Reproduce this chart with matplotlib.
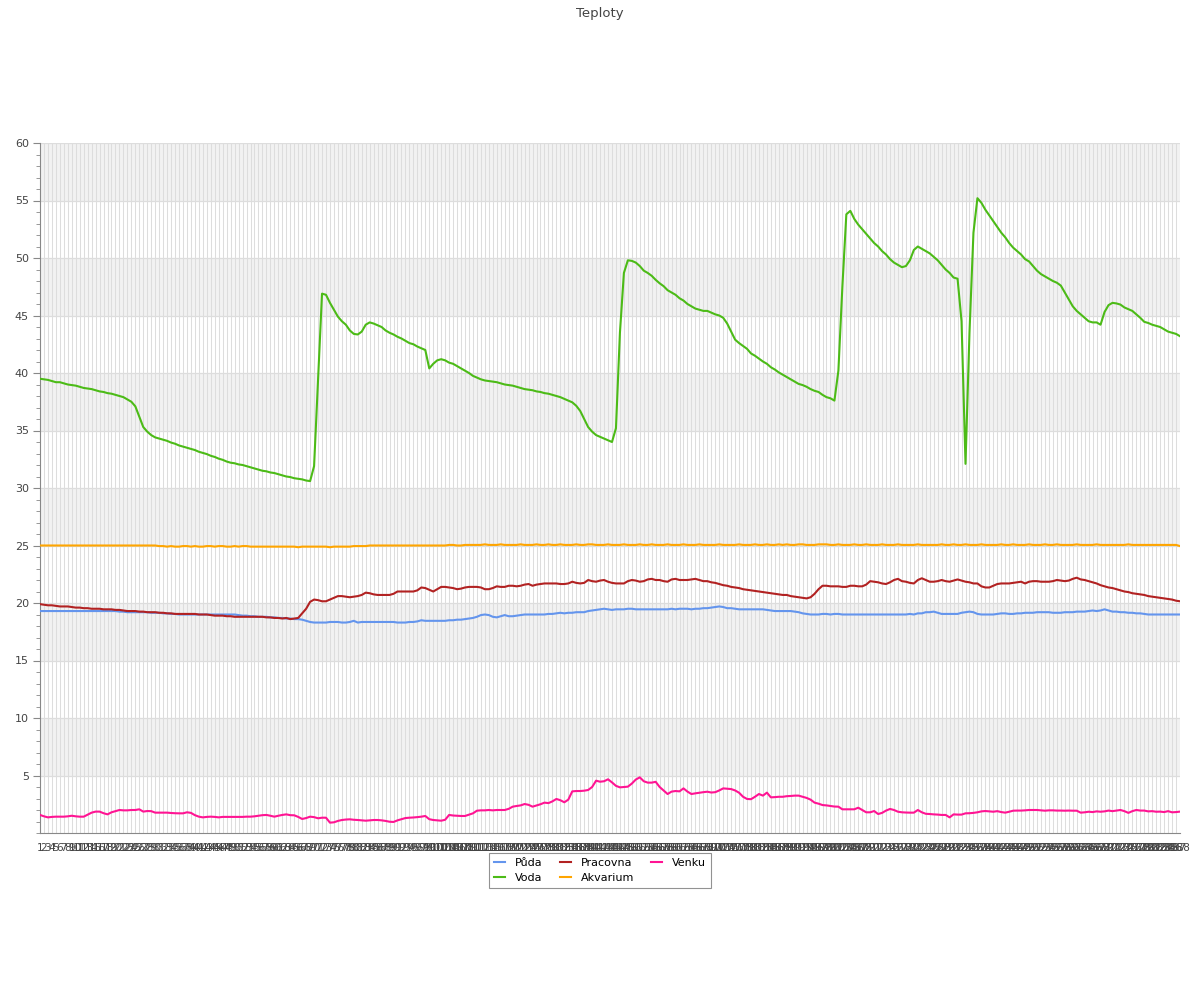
import matplotlib
matplotlib.use('Agg')
import matplotlib.pyplot as plt
from matplotlib.ticker import MultipleLocator

# 288 samples (5 min steps over one day)
labels = [str(i) for i in range(1, 289)]

puda = [19.3]*20 + [
    19.25, 19.25, 19.2, 19.2, 19.2, 19.2, 19.2, 19.2, 19.15, 19.15, 19.15, 19.1, 19.1,
    19.05, 19.05] + [19.0]*15 + [
    18.95, 18.9, 18.9, 18.85, 18.85, 18.8, 18.8, 18.8, 18.75, 18.75,
    18.7, 18.7, 18.65, 18.65, 18.6, 18.6, 18.55, 18.45, 18.35, 18.3,
    18.3, 18.3, 18.3, 18.35, 18.35, 18.35, 18.3, 18.3, 18.35, 18.45,
    18.3, 18.35, 18.35, 18.35, 18.35, 18.35, 18.35, 18.35, 18.35, 18.35,
    18.3, 18.3, 18.3, 18.35, 18.35, 18.4, 18.5, 18.45, 18.45, 18.45,
    18.45, 18.45, 18.45, 18.5, 18.5, 18.55, 18.55, 18.6, 18.65, 18.7,
    18.8, 18.95, 19.0, 18.95, 18.8, 18.75, 18.85, 18.95, 18.85, 18.85,
    18.9, 18.95, 19.0, 19.0, 19.0, 19.0, 19.0, 19.0, 19.05, 19.05,
    19.1, 19.15, 19.1, 19.15, 19.15, 19.2, 19.2, 19.2, 19.3, 19.35,
    19.4, 19.45, 19.5, 19.45, 19.4, 19.45, 19.45, 19.45, 19.5, 19.5,
    19.45, 19.45, 19.45, 19.45, 19.45, 19.45, 19.45, 19.45, 19.45, 19.5,
    19.45, 19.5, 19.5, 19.5, 19.45, 19.5, 19.5, 19.55, 19.55, 19.6,
    19.65, 19.7, 19.65, 19.55, 19.55, 19.5, 19.45, 19.45, 19.45, 19.45,
    19.45, 19.45, 19.45, 19.4, 19.35, 19.3, 19.3, 19.3, 19.3, 19.3,
    19.25, 19.2, 19.1, 19.05, 19.0, 19.0, 19.0, 19.05, 19.05, 19.0,
    19.05, 19.05, 19.0, 19.0, 19.0, 19.0, 19.0, 19.0, 19.0, 19.0,
    19.0, 19.0, 19.0, 19.0, 19.0, 19.0, 19.0, 19.0, 19.0, 19.05,
    19.0, 19.1, 19.1, 19.2, 19.2, 19.25, 19.15, 19.05, 19.05, 19.05,
    19.05, 19.05, 19.15, 19.2, 19.25, 19.2, 19.05, 19.0, 19.0, 19.0,
    19.0, 19.05, 19.1, 19.1, 19.05, 19.05, 19.1, 19.1, 19.15, 19.15,
    19.15, 19.2, 19.2, 19.2, 19.2, 19.15, 19.15, 19.15, 19.2, 19.2,
    19.2, 19.25, 19.25, 19.25, 19.3, 19.35, 19.3, 19.35, 19.45, 19.35,
    19.25, 19.25, 19.2, 19.2, 19.15, 19.15, 19.1, 19.1, 19.05, 19.0] + [19.0]*8

voda = [
    39.5, 39.45, 39.4, 39.3, 39.2, 39.2, 39.1, 39.0, 38.95, 38.9,
    38.8, 38.7, 38.65, 38.6, 38.5, 38.4, 38.35, 38.25, 38.2, 38.1,
    38.0, 37.9, 37.7, 37.5, 37.1, 36.2, 35.3, 34.9, 34.6, 34.4,
    34.3, 34.2, 34.1, 33.95, 33.85, 33.7, 33.6, 33.5, 33.4, 33.3,
    33.15, 33.05, 32.95, 32.8, 32.7, 32.55, 32.45, 32.3, 32.2, 32.15,
    32.05, 32.0, 31.9, 31.8, 31.7, 31.6, 31.5, 31.45, 31.35, 31.3,
    31.2, 31.1, 31.0, 30.95, 30.85, 30.8, 30.75, 30.65, 30.6, 31.9,
    39.3, 46.9, 46.8, 46.1, 45.5, 44.9, 44.5, 44.2, 43.7, 43.4,
    43.35, 43.6, 44.2, 44.4, 44.3, 44.15, 44.0, 43.7, 43.5, 43.35,
    43.15, 43.0, 42.8, 42.6, 42.5, 42.3, 42.15, 42.0, 40.4, 40.8,
    41.1, 41.2, 41.1, 40.9, 40.8, 40.6, 40.4, 40.2, 40.0, 39.75,
    39.6, 39.45, 39.35, 39.3, 39.25, 39.2, 39.1, 39.0, 38.95, 38.9,
    38.8, 38.7, 38.6, 38.55, 38.5, 38.4, 38.35, 38.25, 38.2, 38.1,
    38.0, 37.9, 37.75, 37.6, 37.45, 37.15, 36.7, 36.0, 35.3, 34.9,
    34.6, 34.45, 34.3, 34.15, 34.0, 35.2, 43.5, 48.7, 49.8, 49.75,
    49.6, 49.3, 48.9, 48.7, 48.45, 48.1, 47.8, 47.55, 47.2, 47.0,
    46.8, 46.5, 46.3, 46.0, 45.8, 45.6, 45.5, 45.4, 45.4, 45.25,
    45.1, 45.0, 44.8, 44.3, 43.6, 42.9, 42.6, 42.35, 42.1, 41.7,
    41.5, 41.25, 41.0, 40.8, 40.5, 40.3, 40.05, 39.85, 39.65, 39.45,
    39.25, 39.05, 38.95, 38.8, 38.6, 38.45, 38.35, 38.1, 37.9, 37.8,
    37.6, 40.2, 47.5, 53.8, 54.1, 53.4, 52.9, 52.5, 52.1, 51.7,
    51.3, 51.0, 50.6, 50.3, 49.9, 49.6, 49.4, 49.2, 49.3, 49.8,
    50.7, 51.0, 50.8, 50.6, 50.4, 50.1, 49.8, 49.4, 49.0, 48.7,
    48.3, 48.2, 44.5, 32.1, 43.5, 52.2, 55.2, 54.8, 54.2, 53.7,
    53.2, 52.7, 52.2, 51.8, 51.3, 50.9, 50.6, 50.3, 49.9, 49.7,
    49.3, 48.9, 48.6, 48.4, 48.2, 48.0, 47.85, 47.6, 47.0, 46.4,
    45.8, 45.4, 45.1, 44.8, 44.5, 44.4, 44.4, 44.2, 45.3, 45.9,
    46.1, 46.05, 45.95, 45.7, 45.55, 45.4, 45.1, 44.8, 44.45, 44.35,
    44.2, 44.1, 44.0, 43.8, 43.6, 43.5, 43.4, 43.2]

pracovna = [
    19.9, 19.85, 19.8, 19.8, 19.75, 19.7, 19.7, 19.7, 19.65, 19.6,
    19.6, 19.55, 19.55, 19.5, 19.5, 19.5, 19.45, 19.45, 19.45, 19.4,
    19.4, 19.35, 19.3, 19.3, 19.3, 19.25, 19.25, 19.2, 19.2, 19.2,
    19.15, 19.15, 19.1, 19.1, 19.05, 19.05, 19.05, 19.05, 19.05, 19.05,
    19.0, 19.0, 19.0, 18.95, 18.9, 18.9, 18.9, 18.85, 18.85, 18.8,
    18.8, 18.8, 18.8, 18.8, 18.8, 18.8, 18.8, 18.75, 18.75, 18.7,
    18.7, 18.65, 18.7, 18.6, 18.65, 18.7, 19.1, 19.5, 20.1, 20.3,
    20.25, 20.15, 20.15, 20.3, 20.45, 20.6, 20.6, 20.55, 20.5, 20.55,
    20.6, 20.7, 20.9, 20.85, 20.75, 20.7, 20.7, 20.7, 20.7, 20.8,
    21.0, 21.0, 21.0, 21.0, 21.0, 21.1, 21.35, 21.3, 21.15, 21.0,
    21.2, 21.4, 21.4, 21.35, 21.3, 21.2, 21.25, 21.35, 21.4, 21.4,
    21.4, 21.35, 21.2, 21.2, 21.3, 21.45, 21.4, 21.4, 21.5, 21.5,
    21.45, 21.5, 21.6, 21.65, 21.5, 21.6, 21.65, 21.7, 21.7, 21.7,
    21.7, 21.65, 21.65, 21.7, 21.85, 21.75, 21.7, 21.75, 22.0, 21.9,
    21.85, 21.95, 22.0, 21.85, 21.75, 21.7, 21.7, 21.7, 21.9, 22.0,
    21.95, 21.85, 21.9, 22.05, 22.1, 22.0, 22.0, 21.9, 21.85, 22.05,
    22.1, 22.0, 22.0, 22.0, 22.05, 22.1, 22.0, 21.9, 21.9, 21.8,
    21.75, 21.65, 21.55, 21.5, 21.4, 21.35, 21.3, 21.2, 21.15, 21.1,
    21.05, 21.0, 20.95, 20.9, 20.85, 20.8, 20.75, 20.7, 20.7, 20.6,
    20.55, 20.5, 20.45, 20.4, 20.5, 20.8, 21.2, 21.5, 21.5, 21.45,
    21.45, 21.45, 21.4, 21.4, 21.5, 21.5, 21.45, 21.45, 21.6, 21.9,
    21.85, 21.8, 21.7, 21.65, 21.8, 22.0, 22.1, 21.9, 21.85, 21.75,
    21.7, 22.0, 22.15, 22.0, 21.85, 21.85, 21.9, 22.0, 21.9, 21.85,
    21.95, 22.05, 21.95, 21.85, 21.8, 21.7, 21.7, 21.45, 21.35, 21.35,
    21.5, 21.65, 21.7, 21.7, 21.7, 21.75, 21.8, 21.85, 21.7, 21.85,
    21.9, 21.9, 21.85, 21.85, 21.85, 21.9, 22.0, 21.95, 21.9, 21.95,
    22.1, 22.2, 22.05, 22.0, 21.9, 21.8, 21.7, 21.55, 21.45, 21.35,
    21.3, 21.2, 21.1, 21.0, 20.95, 20.85, 20.8, 20.75, 20.7, 20.6,
    20.55, 20.5, 20.45, 20.4, 20.35, 20.3, 20.2, 20.15]

akvarium = [25.0]*30 + [
    24.95, 24.95, 24.9, 24.95, 24.9, 24.9, 24.95, 24.95, 24.9, 24.95,
    24.9, 24.9, 24.95, 24.95, 24.9, 24.95, 24.95, 24.9, 24.9, 24.95,
    24.9, 24.95, 24.95, 24.9, 24.9, 24.9, 24.9, 24.9, 24.9, 24.9,
    24.9, 24.9, 24.9, 24.9, 24.9, 24.85, 24.9, 24.9, 24.9, 24.9,
    24.9, 24.9, 24.9, 24.85, 24.9, 24.9, 24.9, 24.9, 24.9, 24.95,
    24.95, 24.95, 24.95, 25.0, 25.0, 25.0, 25.0, 25.0, 25.0, 25.0,
    25.0, 25.0, 25.0, 25.0, 25.0, 25.0, 25.0, 25.0, 25.0, 25.0,
    25.0, 25.0, 25.0, 25.05, 25.05, 25.0, 25.0, 25.05, 25.05, 25.05,
    25.05, 25.05, 25.1, 25.05, 25.05, 25.05, 25.1, 25.05, 25.05, 25.05,
    25.05, 25.1, 25.05, 25.05, 25.05, 25.1, 25.05, 25.05, 25.1, 25.05,
    25.05, 25.1, 25.05, 25.05, 25.05, 25.1, 25.05, 25.05, 25.1, 25.1,
    25.05, 25.05, 25.05, 25.1, 25.05, 25.05, 25.05, 25.1, 25.05, 25.05,
    25.05, 25.1, 25.05, 25.05, 25.1, 25.05, 25.05, 25.05, 25.1, 25.05,
    25.05, 25.05, 25.1, 25.05, 25.05, 25.05, 25.1, 25.05, 25.05, 25.05,
    25.05, 25.1, 25.05, 25.05, 25.05, 25.05, 25.1, 25.05, 25.05, 25.05,
    25.1, 25.05, 25.05, 25.1, 25.05, 25.05, 25.1, 25.05, 25.1, 25.05,
    25.05, 25.1, 25.1, 25.05, 25.05, 25.05, 25.1, 25.1, 25.1, 25.05,
    25.05, 25.1, 25.05, 25.05, 25.05, 25.1, 25.05, 25.05, 25.1, 25.05,
    25.05, 25.05, 25.1, 25.05, 25.05, 25.05, 25.1, 25.05, 25.05, 25.05,
    25.05, 25.1, 25.05, 25.05, 25.05, 25.05, 25.05, 25.1, 25.05, 25.05,
    25.1, 25.05, 25.05, 25.1, 25.05, 25.05, 25.05, 25.1, 25.05, 25.05,
    25.05, 25.05, 25.1, 25.05, 25.05, 25.1, 25.05, 25.05, 25.05, 25.1,
    25.05, 25.05, 25.05, 25.1, 25.05, 25.05, 25.1, 25.05, 25.05, 25.05,
    25.05, 25.1, 25.05, 25.05, 25.05, 25.05, 25.1, 25.05, 25.05, 25.05,
    25.05, 25.05, 25.05, 25.05, 25.1, 25.05, 25.05, 25.05, 25.05, 25.05,
    25.05, 25.05, 25.05, 25.05, 25.05, 25.05, 25.05, 24.95]

venku = [
    1.57, 1.45, 1.36, 1.4, 1.42, 1.42, 1.42, 1.45, 1.5, 1.45,
    1.42, 1.42, 1.6, 1.77, 1.86, 1.86, 1.72, 1.62, 1.8, 1.9,
    2.0, 1.97, 1.97, 2.0, 2.0, 2.06, 1.86, 1.91, 1.9, 1.77,
    1.77, 1.77, 1.77, 1.74, 1.72, 1.71, 1.71, 1.8, 1.75, 1.55,
    1.42, 1.36, 1.4, 1.42, 1.4, 1.36, 1.4, 1.4, 1.4, 1.4,
    1.4, 1.4, 1.42, 1.42, 1.45, 1.5, 1.55, 1.57, 1.5, 1.42,
    1.5, 1.57, 1.62, 1.55, 1.54, 1.4, 1.22, 1.3, 1.42, 1.38,
    1.28, 1.33, 1.33, 0.9, 0.93, 1.05, 1.13, 1.17, 1.19, 1.15,
    1.13, 1.1, 1.07, 1.1, 1.13, 1.13, 1.1, 1.05, 0.98, 0.96,
    1.1, 1.2, 1.3, 1.33, 1.35, 1.38, 1.42, 1.48, 1.2, 1.13,
    1.1, 1.07, 1.15, 1.57, 1.52, 1.5, 1.48, 1.48, 1.6, 1.71,
    1.94, 1.97, 1.97, 2.0, 1.97, 2.0, 2.0, 2.0, 2.1, 2.29,
    2.35, 2.4, 2.52, 2.45, 2.29, 2.4, 2.5, 2.64, 2.6, 2.75,
    2.96, 2.85, 2.67, 2.9, 3.62, 3.65, 3.65, 3.68, 3.74, 4.0,
    4.55, 4.46, 4.5, 4.67, 4.4, 4.1, 3.97, 4.0, 4.03, 4.3,
    4.65, 4.84, 4.5, 4.38, 4.38, 4.45, 4.0, 3.7, 3.39, 3.6,
    3.65, 3.62, 3.88, 3.6, 3.39, 3.45, 3.5, 3.55, 3.59, 3.52,
    3.55, 3.7, 3.88, 3.85, 3.82, 3.7, 3.5, 3.15, 2.96, 2.94,
    3.15, 3.39, 3.25, 3.51, 3.1, 3.12, 3.15, 3.15, 3.2, 3.22,
    3.25, 3.25, 3.15, 3.05, 2.9, 2.64, 2.55, 2.43, 2.4, 2.35,
    2.3, 2.29, 2.06, 2.06, 2.06, 2.06, 2.2, 2.0, 1.8, 1.8,
    1.91, 1.65, 1.75, 1.95, 2.09, 2.0, 1.85, 1.8, 1.78, 1.77,
    1.77, 2.0, 1.8, 1.67, 1.65, 1.62, 1.6, 1.57, 1.57, 1.36,
    1.62, 1.6, 1.6, 1.71, 1.72, 1.75, 1.8, 1.88, 1.91, 1.88,
    1.85, 1.9, 1.82, 1.77, 1.85, 1.94, 1.95, 1.95, 1.97, 2.0,
    2.0, 2.0, 1.97, 1.94, 1.97, 1.97, 1.95, 1.95, 1.94, 1.95,
    1.94, 1.94, 1.77, 1.8, 1.85, 1.82, 1.88, 1.85, 1.88, 1.95,
    1.9, 1.95, 2.0, 1.9, 1.75, 1.9, 2.0, 1.95, 1.95, 1.88,
    1.9, 1.85, 1.86, 1.82, 1.9, 1.8, 1.82, 1.86]

series = [
    ('Půda', puda, '#6495ED'),
    ('Voda', voda, '#4CBB17'),
    ('Pracovna', pracovna, '#B22222'),
    ('Akvarium', akvarium, '#FFA500'),
    ('Venku', venku, '#FF1493'),
]

fig = plt.figure(figsize=(12, 10), dpi=100)
ax = fig.add_axes([40/1200, 167/1000, 1140/1200, 690/1000])

x = list(range(len(labels)))

# alternating bands
for lo in range(5, 60, 10):
    ax.axhspan(lo, lo + 5, color='#f2f2f2', zorder=0, lw=0)

ax.set_xlim(0, len(labels) - 1)
ax.set_ylim(0, 60)

ax.set_xticks(x)
ax.set_xticklabels(labels, fontsize=7.5, color='#444444')
ax.tick_params(axis='x', length=0, pad=7)
ax.set_yticks(range(5, 61, 5))
ax.yaxis.set_minor_locator(MultipleLocator(1))
ax.tick_params(axis='y', which='major', length=5, color='#888888', labelsize=8, labelcolor='#444444', pad=3)
ax.tick_params(axis='y', which='minor', length=3, color='#888888')

ax.grid(axis='x', color='#dddddd', lw=0.75, zorder=1)
ax.grid(axis='y', color='#dddddd', lw=0.9, zorder=1)
ax.set_axisbelow(True)

for s in ['top', 'right']:
    ax.spines[s].set_visible(False)
ax.spines['left'].set_color('#888888')
ax.spines['bottom'].set_color('#888888')

for name, vals, col in series:
    ax.plot(x[:len(vals)], vals, color=col, lw=1.5, label=name, zorder=3)

fig.suptitle('Teploty', y=0.993, fontsize=9.5, color='#444444')

leg = ax.legend(loc='upper center', bbox_to_anchor=(0.5, 0.153), bbox_transform=fig.transFigure,
                ncol=3, fontsize=8, frameon=True, fancybox=False, handlelength=1.0,
                columnspacing=1.5, handletextpad=0.9, borderpad=0.45, labelspacing=0.45)
leg.get_frame().set_edgecolor('#777777')
leg.get_frame().set_linewidth(0.8)

fig.savefig('out.png', dpi=100)
